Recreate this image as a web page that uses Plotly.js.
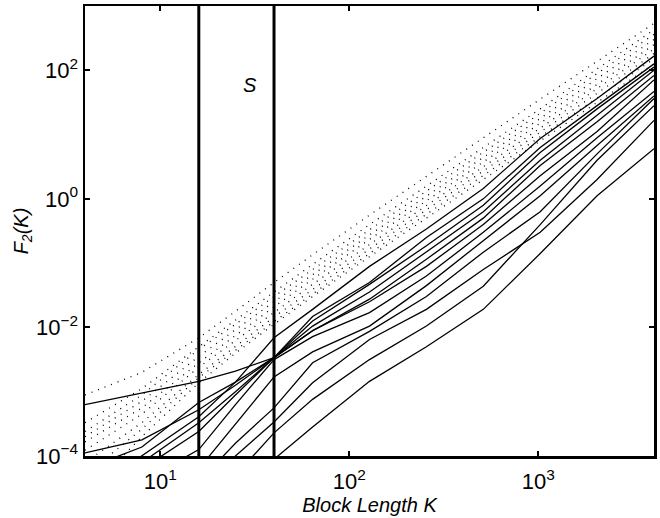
<!DOCTYPE html>
<html>
<head>
<meta charset="utf-8">
<script src="https://cdn.plot.ly/plotly-3.0.1.min.js"></script>
<style>
  html, body { margin: 0; padding: 0; background: #fff; }
  #chart { width: 660px; height: 518px; }
</style>
</head>
<body>
<div id="chart"></div>
<script>
// Block lengths K
const K = [4, 8, 16, 25, 40, 64, 128, 256, 512, 1024, 2048, 4096];

// Dotted series F2(K)
const dotted1 = [8.9e-4, 2.0e-3, 6.9e-3, 0.0178, 0.050, 0.135, 0.56, 2.24, 8.9, 35.5, 138, 537];
const dotted2 = [3.3e-4, 1.12e-3, 5.0e-3, 0.0132, 0.0355, 0.0955, 0.398, 1.58, 6.31, 25.1, 105, 427];
const dotted3 = [2.4e-4, 8.9e-4, 4.57e-3, 0.0112, 0.0302, 0.0794, 0.331, 1.32, 5.25, 21.4, 89.1, 363];
const dotted4 = [2.0e-4, 7.1e-4, 3.55e-3, 9.3e-3, 0.0251, 0.0661, 0.275, 1.10, 4.37, 17.8, 74.1, 302];
const dotted5 = [1.66e-4, 5.6e-4, 2.82e-3, 7.6e-3, 0.0209, 0.0562, 0.234, 0.933, 3.72, 14.8, 60.3, 251];
const dotted6 = [1.23e-4, 4.47e-4, 2.4e-3, 6.3e-3, 0.0174, 0.0468, 0.195, 0.794, 3.16, 12.6, 51.3, 214];
const dotted7 = [7.9e-5, 3.3e-4, 1.86e-3, 5.1e-3, 0.0145, 0.0389, 0.166, 0.676, 2.69, 10.7, 43.7, 182];
const dotted8 = [5.0e-5, 2.63e-4, 1.66e-3, 4.47e-3, 0.0123, 0.0331, 0.141, 0.575, 2.29, 9.12, 37.2, 151];
const dotted9 = [2.5e-5, 2.0e-4, 1.38e-3, 3.98e-3, 0.0112, 0.0302, 0.126, 0.501, 2.0, 7.94, 31.6, 126];

// Solid series F2(K)
const solid1  = [6.3e-4, 9.5e-4, 1.45e-3, 2.09e-3, 3.39e-3, 8.9e-3, 0.0275, 0.115, 0.501, 3.31, 15.8, 83.2];
const solid2  = [2.5e-5, 1.0e-4, 4.07e-4, 1.41e-3, 6.9e-3, 0.0191, 0.0891, 0.339, 1.45, 8.71, 36.3, 166];
const solid3  = [1.58e-5, 7.9e-5, 3.3e-4, 1.0e-3, 3.39e-3, 0.0148, 0.050, 0.251, 1.0, 6.31, 28.2, 126];
const solid4  = [1.12e-4, 1.78e-4, 5.25e-4, 1.26e-3, 3.39e-3, 0.0126, 0.0468, 0.186, 0.794, 5.25, 25.1, 112];
const solid5  = [6.3e-5, 1.38e-4, 6.8e-4, 1.41e-3, 3.39e-3, 0.0105, 0.0355, 0.148, 0.631, 3.98, 20.0, 100];
const solid6  = [3.16e-5, 6.3e-5, 2.4e-4, 8.9e-4, 3.39e-3, 8.9e-3, 0.0251, 0.0891, 0.398, 2.29, 11.2, 70.8];
const solid7  = [1.0e-5, 3.98e-5, 1.26e-4, 6.3e-4, 3.16e-3, 7.2e-3, 0.0170, 0.0631, 0.302, 1.58, 8.91, 46.8];
const solid8  = [6.3e-6, 1.58e-5, 6.3e-5, 3.16e-4, 1.70e-3, 4.17e-3, 0.0105, 0.0447, 0.224, 1.12, 6.76, 39.8];
const solid9  = [3.98e-6, 1.0e-5, 3.98e-5, 1.58e-4, 5.6e-4, 2.82e-3, 8.7e-3, 0.0302, 0.148, 0.631, 5.01, 36.3];
const solid10 = [2.5e-6, 7.9e-6, 2.5e-5, 1.0e-4, 3.39e-4, 1.38e-3, 6.5e-3, 0.0191, 0.0794, 0.302, 2.0, 16.6];
const solid11 = [1.58e-6, 5.0e-6, 1.58e-5, 5.0e-5, 2.29e-4, 7.6e-4, 3.16e-3, 0.0105, 0.0437, 0.398, 3.98, 28.2];
const solid12 = [3.98e-7, 1.0e-6, 3.98e-6, 1.26e-5, 8.9e-5, 2.82e-4, 1.45e-3, 5.0e-3, 0.0191, 0.141, 1.12, 6.03];

// Boundaries of the scaling region S
const regionBounds = [16, 40];
const regionLabel = 'S';
const yExtent = [1e-4, 1e3];

// Tick positions and labels
const xTickVals = [10, 100, 1000];
const xTickText = ['10<sup>1</sup>', '10<sup>2</sup>', '10<sup>3</sup>'];
const yTickVals = [1e-4, 1e-2, 1, 100];
const yTickText = ['10<sup>\u22124</sup>', '10<sup>\u22122</sup>', '10<sup>0</sup>', '10<sup>2</sup>'];

const dottedSeries = [dotted1, dotted2, dotted3, dotted4, dotted5, dotted6, dotted7, dotted8, dotted9];
const solidSeries = [solid1, solid2, solid3, solid4, solid5, solid6, solid7, solid8, solid9, solid10, solid11, solid12];

const traces = [];
dottedSeries.forEach(s => traces.push({
  x: K, y: s, type: 'scatter', mode: 'lines', hoverinfo: 'skip',
  line: { color: '#000', width: 1.3, dash: '1px,6px' }
}));
solidSeries.forEach(s => traces.push({
  x: K, y: s, type: 'scatter', mode: 'lines', hoverinfo: 'skip',
  line: { color: '#000', width: 1.3 }
}));
regionBounds.forEach(b => traces.push({
  x: [b, b], y: yExtent, type: 'scatter', mode: 'lines', hoverinfo: 'skip',
  line: { color: '#000', width: 3 }
}));

const family = 'Liberation Sans, Arial, Helvetica, sans-serif';
const tickFont = { family: family, color: '#000', size: 22 };
const titleFont = { family: family, color: '#000', size: 20 };

const layout = {
  width: 660, height: 518,
  margin: { l: 85, r: 6, t: 6, b: 62 },
  paper_bgcolor: '#fff', plot_bgcolor: '#fff',
  showlegend: false,
  font: tickFont,
  xaxis: {
    type: 'log', range: [Math.log10(4), Math.log10(4096)],
    tickmode: 'array', tickvals: xTickVals, ticktext: xTickText,
    ticks: 'inside', ticklen: 5, tickwidth: 2, tickcolor: '#000',
    ticklabelstandoff: 4,
    showline: true, linecolor: '#000', linewidth: 2.5, mirror: 'allticks',
    showgrid: false, zeroline: false, automargin: false,
    tickfont: tickFont,
    title: { text: '<i>Block Length K</i>', font: titleFont, standoff: 2 }
  },
  yaxis: {
    type: 'log', range: [-4, 3],
    tickmode: 'array', tickvals: yTickVals, ticktext: yTickText,
    ticks: 'inside', ticklen: 5, tickwidth: 2, tickcolor: '#000',
    showline: true, linecolor: '#000', linewidth: 2.5, mirror: 'allticks',
    showgrid: false, zeroline: false, automargin: false,
    tickfont: tickFont,
    title: { text: '<i>F<sub>2</sub>(K)</i>', font: titleFont, standoff: 2 }
  },
  annotations: [{
    text: '<i>' + regionLabel + '</i>', xref: 'paper', yref: 'paper',
    x: 0.274, y: 0.853, showarrow: false, font: titleFont
  }]
};

Plotly.newPlot('chart', traces, layout, { staticPlot: true, displayModeBar: false });
</script>
</body>
</html>
